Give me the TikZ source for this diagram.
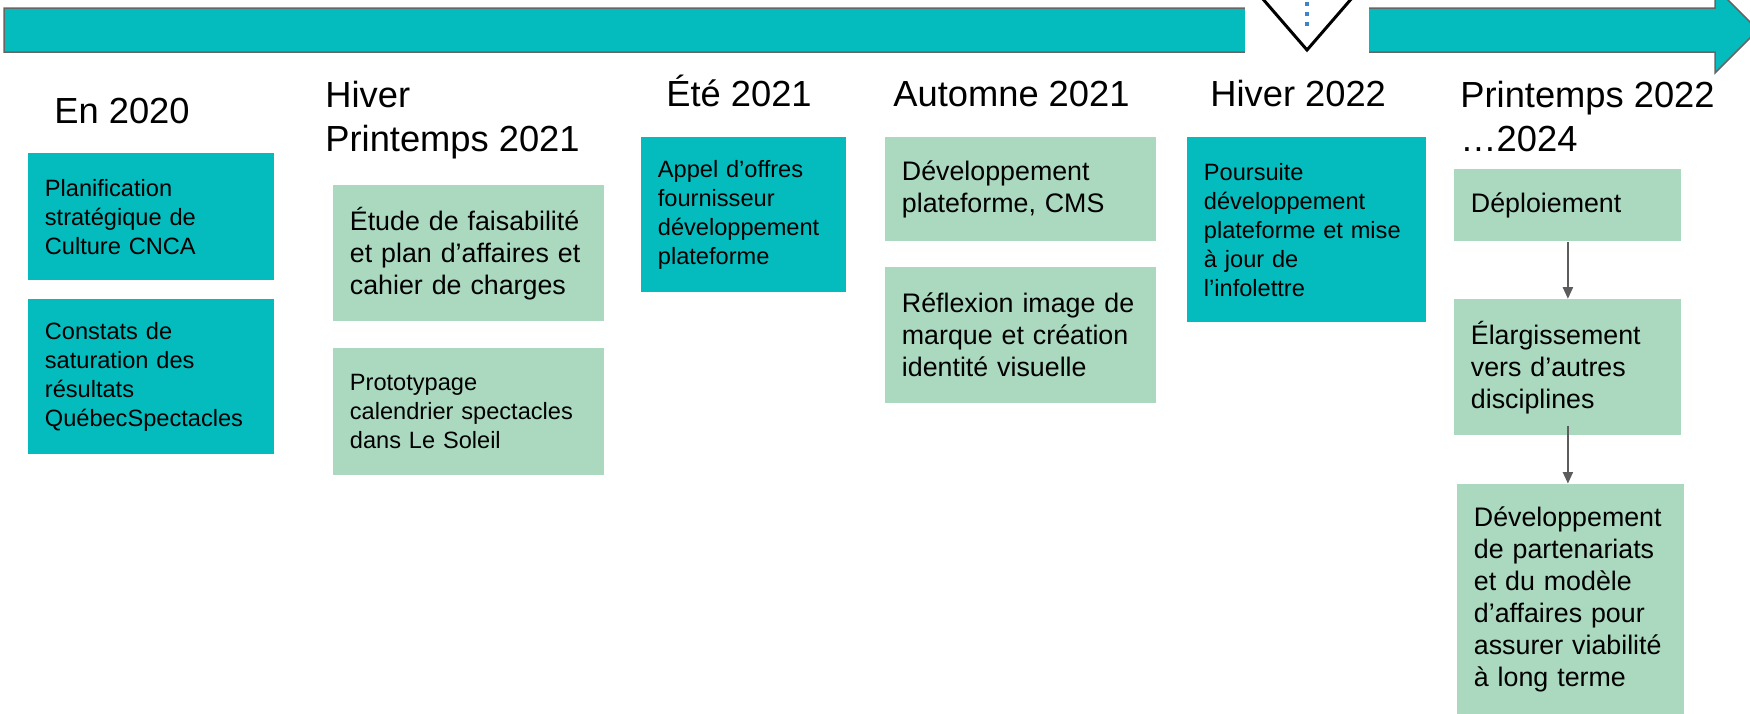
\documentclass[tikz,border=0pt]{standalone}
\usepackage{fontspec}
\setmainfont{Liberation Sans}
\usetikzlibrary{positioning, arrows.meta}

\definecolor{turquoise}{RGB}{4,188,190}
\definecolor{vertpale}{RGB}{170,217,191}
\definecolor{bord}{RGB}{102,102,102}
\definecolor{pointille}{RGB}{61,133,198}

\begin{document}
\begin{tikzpicture}[x=0.5pt,y=-0.5pt,>={Triangle[length=5.8pt,width=5pt]}]
\useasboundingbox (0,0) rectangle (1750,713);

\tikzset{titre/.style={anchor=base west,inner sep=0pt,align=left,font=\fontsize{18.15}{22}\selectfont}}
\tikzset{boite/.style={anchor=north west,inner xsep=8.25pt,inner ysep=0pt,align=left}}
\tikzset{bleu/.style={boite,fill=turquoise}}
\tikzset{vert/.style={boite,fill=vertpale}}
\tikzset{petit/.style={font=\fontsize{11.8}{14.5}\selectfont}}
\tikzset{grand/.style={font=\fontsize{13.4}{16}\selectfont}}
\tikzset{fleche/.style={->,draw=bord!90!black,line width=1pt}}

% la ligne du temps
\draw[draw=bord,line width=0.75pt,fill=turquoise] (4,8) -- (1715,8) -- (1715,-13) -- (1758,30) -- (1715,73) -- (1715,52) -- (4,52) -- cycle;
\fill[white] (1245,0) rectangle (1369,54);
\draw[line width=1.5pt] (1262,-2) -- (1307,50) -- (1352,-2);
\draw[pointille,line width=2.25pt,dash pattern=on 2.25pt off 2.75pt] (1307,1.8) -- (1307,26);

\node[titre] (H1) at (54,123) {En 2020};
\node[titre,anchor=north west] (H2) at (325,80.7) {Hiver\\Printemps 2021};
\node[titre] (H3) at (666,106.7) {Été 2021};
\node[titre] (H4) at (893,106.7) {Automne 2021};
\node[titre] (H5) at (1210,106) {Hiver 2022};
\node[titre,anchor=north west] (H6) at (1460,80.3) {Printemps 2022\\…2024};

\node[bleu,petit,minimum width=123pt,minimum height=63.5pt,text width=106.5pt] (A1) at (28,153) {Planification\\stratégique de\\Culture CNCA};
\node[bleu,petit,minimum width=123pt,minimum height=77.5pt,text width=106.5pt] (A2) [below=9pt of A1] {Constats de\\saturation des\\résultats\\QuébecSpectacles};

\node[vert,grand,minimum width=135.5pt,minimum height=68pt,text width=119pt] (B1) at (333,185) {Étude de faisabilité\\et plan d’affaires et\\cahier de charges};
\node[vert,petit,minimum width=135.5pt,minimum height=63.5pt,text width=119pt] (B2) [below=13pt of B1] {Prototypage\\calendrier spectacles\\dans Le Soleil};

\node[bleu,petit,minimum width=102.5pt,minimum height=77.5pt,text width=86pt] (C1) at (641,137) {Appel d’offres\\fournisseur\\développement\\plateforme};

\node[vert,grand,minimum width=135.5pt,minimum height=52pt,text width=119pt] (D1) at (885,137) {Développement\\plateforme, CMS};
\node[vert,grand,minimum width=135.5pt,minimum height=68pt,text width=119pt] (D2) [below=12.5pt of D1] {Réflexion image de\\marque et création\\identité visuelle};

\node[bleu,petit,minimum width=119.5pt,minimum height=92.5pt,text width=103pt] (E1) at (1187,137) {Poursuite\\développement\\plateforme et mise\\à jour de\\l’infolettre};

\node[vert,grand,minimum width=113.5pt,minimum height=36pt,text width=97pt] (F1) at (1454,169) {Déploiement};
\node[vert,grand,minimum width=113.5pt,minimum height=68pt,text width=97pt] (F2) [below=28.5pt of F1] {Élargissement\\vers d’autres\\disciplines};
\node[vert,grand,minimum width=113.5pt,minimum height=115.5pt,text width=97pt] (F3) [below=24pt of F2,xshift=1.5pt] {Développement\\de partenariats\\et du modèle\\d’affaires pour\\assurer viabilité\\à long terme};

\draw[fleche] (F1) -- (F2);
\draw[fleche] ([yshift=5pt]F2.south) -- (F2.south |- F3.north);
\end{tikzpicture}
\end{document}
